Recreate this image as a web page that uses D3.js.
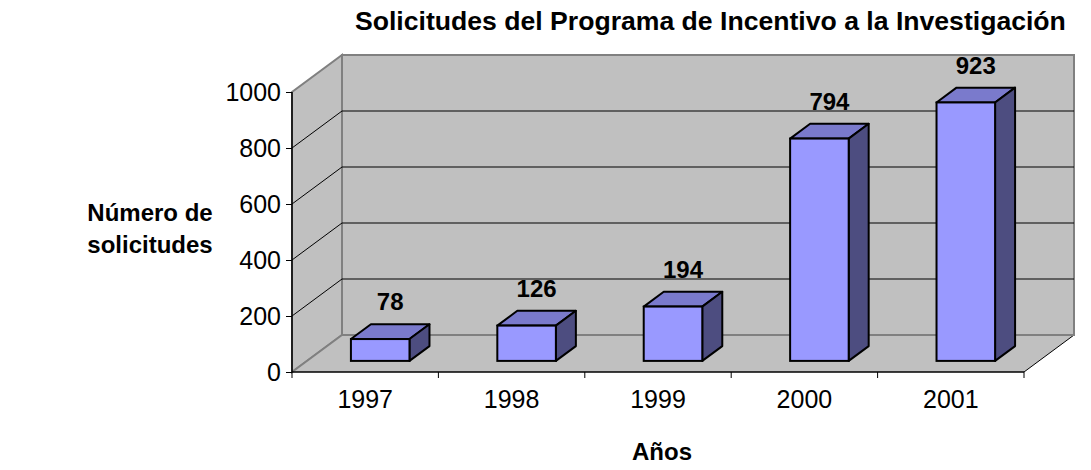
<!DOCTYPE html>
<meta charset="utf-8">
<title>Solicitudes del Programa de Incentivo a la Investigación</title>
<style>
  body { margin: 0; background: white; }
  svg { font-family: "Liberation Sans", Arial, sans-serif; }
</style>
<body>
<div id="chart"></div>
<script src="https://d3js.org/d3.v7.min.js"></script>
<script>
// data
var years = ["1997", "1998", "1999", "2000", "2001"];
var solicitudes = [78, 126, 194, 794, 923];
var yTicks = [0, 200, 400, 600, 800, 1000];

var width = 1091, height = 470;

// 3d box: front plane + depth offset to the back wall
var DX = 50, DY = -37;
var front0 = 0.3, front1 = 0.7;   // bar depth inside the floor

var x = d3.scaleBand()
  .domain(years)
  .range([292, 1024])
  .paddingInner(0.6)
  .paddingOuter(0.3);

var y = d3.scaleLinear()
  .domain([0, 1000])
  .range([372, 92]);

var svg = d3.select("#chart")
  .append("svg")
    .attr("width", width)
    .attr("height", height);

var xl = x.range()[0], xr = x.range()[1];
var grey = "#808080", wall = "#c0c0c0";

// back wall
svg.append("path")
  .attr("d", "M" + (xl + DX) + "," + (y(1000) + DY) + "H" + (xr + DX) + "V" + (y(0) + DY) + "H" + (xl + DX) + "Z")
  .attr("fill", wall).attr("stroke", grey).attr("stroke-width", 2);

// left wall
svg.append("path")
  .attr("d", "M" + xl + "," + y(0) + "V" + y(1000) + "L" + (xl + DX) + "," + (y(1000) + DY) + "V" + (y(0) + DY) + "Z")
  .attr("fill", wall).attr("stroke", grey).attr("stroke-width", 2);

// floor
svg.append("path")
  .attr("d", "M" + xl + "," + y(0) + "H" + xr + "L" + (xr + DX) + "," + (y(0) + DY) + "H" + (xl + DX) + "Z")
  .attr("fill", wall).attr("stroke", "none");
svg.append("line")
  .attr("x1", xr).attr("y1", y(0)).attr("x2", xr + DX).attr("y2", y(0) + DY)
  .attr("stroke", "black").attr("stroke-width", 1);
svg.append("line")
  .attr("x1", xl).attr("y1", y(0)).attr("x2", xl + DX).attr("y2", y(0) + DY)
  .attr("stroke", grey).attr("stroke-width", 2);
svg.append("line")
  .attr("x1", xl + DX).attr("y1", y(0) + DY).attr("x2", xr + DX).attr("y2", y(0) + DY)
  .attr("stroke", grey).attr("stroke-width", 2);

// gridlines (back wall + diagonal on the left wall)
var inner = yTicks.filter(function(d) { return d > 0 && d < 1000; });
svg.selectAll(".gridBack")
  .data(inner)
  .enter().append("line")
    .attr("x1", xl + DX).attr("x2", xr + DX)
    .attr("y1", function(d) { return y(d) + DY; })
    .attr("y2", function(d) { return y(d) + DY; })
    .attr("stroke", "black").attr("stroke-width", 1);
svg.selectAll(".gridSide")
  .data(inner)
  .enter().append("line")
    .attr("x1", xl).attr("x2", xl + DX)
    .attr("y1", function(d) { return y(d); })
    .attr("y2", function(d) { return y(d) + DY; })
    .attr("stroke", "black").attr("stroke-width", 1);

// bars
var bars = svg.selectAll(".bar")
  .data(years.map(function(d, i) { return { year: d, value: solicitudes[i] }; }))
  .enter().append("g")
    .attr("class", "bar");

function bx(d) { return x(d.year) + front0 * DX; }
function by(d) { return y(d.value) + front0 * DY; }
var bw = x.bandwidth();
var ddx = (front1 - front0) * DX, ddy = (front1 - front0) * DY;
var y0 = y(0) + front0 * DY;

bars.append("path")  // top
  .attr("d", function(d) {
    return "M" + bx(d) + "," + by(d) + "l" + ddx + "," + ddy + "h" + bw + "l" + (-ddx) + "," + (-ddy) + "Z";
  })
  .attr("fill", "#7a7acc").attr("stroke", "black").attr("stroke-width", 2).attr("stroke-linejoin", "round");
bars.append("path")  // side
  .attr("d", function(d) {
    return "M" + (bx(d) + bw) + "," + by(d) + "l" + ddx + "," + ddy + "V" + (y0 + ddy) + "l" + (-ddx) + "," + (-ddy) + "Z";
  })
  .attr("fill", "#4d4d80").attr("stroke", "black").attr("stroke-width", 2).attr("stroke-linejoin", "round");
bars.append("rect")  // front
  .attr("x", bx)
  .attr("y", by)
  .attr("width", bw)
  .attr("height", function(d) { return y0 - by(d); })
  .attr("fill", "#9999ff").attr("stroke", "black").attr("stroke-width", 2);

// value labels
bars.append("text")
  .attr("x", function(d) { return x(d.year) + bw / 2 + 0.5 * DX; })
  .attr("y", function(d) { return y(d.value) + front1 * DY - 14; })
  .attr("text-anchor", "middle")
  .style("font-size", "24px")
  .style("font-weight", "bold")
  .text(function(d) { return d.value; });

// y axis
var yAxis = svg.append("g")
  .attr("transform", "translate(" + xl + ",0)")
  .call(d3.axisLeft(y).tickValues(yTicks).tickSize(6).tickPadding(5).tickFormat(d3.format("d")));
yAxis.select(".domain").attr("stroke", "black").attr("stroke-width", 1.5).attr("d", "M0," + y(0) + "V" + y(1000));
yAxis.selectAll("text").style("font-size", "25px").attr("fill", "black").attr("font-family", null);

// x axis
var xAxis = svg.append("g")
  .attr("transform", "translate(0," + y(0) + ")")
  .call(d3.axisBottom(x).tickSize(0).tickPadding(18));
xAxis.select(".domain").attr("stroke", "black").attr("stroke-width", 1.5).attr("d", "M" + xl + ",0H" + xr);
xAxis.selectAll("text").style("font-size", "25px").attr("fill", "black").attr("font-family", null);
// ticks between categories
xAxis.selectAll(".sep")
  .data(years.concat(["end"]))
  .enter().append("line")
    .attr("x1", function(d, i) { return xl + i * x.step(); })
    .attr("x2", function(d, i) { return xl + i * x.step(); })
    .attr("y1", 0).attr("y2", 6)
    .attr("stroke", "black");

// titles
svg.append("text")
  .attr("x", 355).attr("y", 30)
  .style("font-size", "26.6px").style("font-weight", "bold")
  .text("Solicitudes del Programa de Incentivo a la Investigación");

svg.append("text")
  .attr("x", 662).attr("y", 460)
  .attr("text-anchor", "middle")
  .style("font-size", "24px").style("font-weight", "bold")
  .text("Años");

var yt = svg.append("text")
  .attr("text-anchor", "middle")
  .style("font-size", "24px").style("font-weight", "bold");
yt.append("tspan").attr("x", 150).attr("y", 221).text("Número de");
yt.append("tspan").attr("x", 150).attr("y", 253).text("solicitudes");
</script>
</body>
